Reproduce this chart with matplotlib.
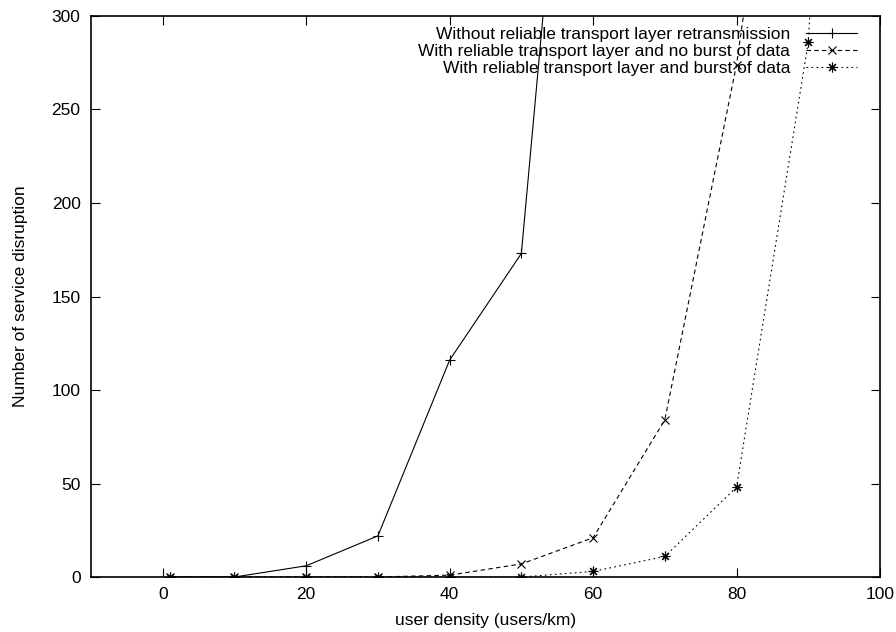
import matplotlib
matplotlib.use('Agg')
import matplotlib.pyplot as plt

plt.rcParams['font.family'] = ['Liberation Sans', 'DejaVu Sans']

# user density (users/km)
density = [1, 10, 20, 30, 40, 50, 60, 70, 80, 90, 100]

# number of service disruptions (last points go off the top of the plot)
no_retrans = [0, 0, 6, 22, 116, 173, 594]
reliable_no_burst = [0, 0, 0, 0, 1, 7, 21, 84, 274, 544]
reliable_burst = [0, 0, 0, 0, 0, 0, 3, 11, 48, 286, 930]

labels = ['Without reliable transport layer retransmission',
          'With reliable transport layer and no burst of data',
          'With reliable transport layer and burst of data']

fig = plt.figure(figsize=(8.96, 6.32), dpi=100)
ax = fig.add_axes([0.1016, 0.087, 0.8805, 0.8877])

lw = 0.8
fs = 12.5
ax.plot(density[:len(no_retrans)], no_retrans, color='black', lw=lw,
        marker='+', markersize=7, markeredgewidth=0.8, label=labels[0])
ax.plot(density[:len(reliable_no_burst)], reliable_no_burst, color='black', lw=lw,
        linestyle=(0, (4, 3)), marker='x', markersize=6, markeredgewidth=0.8,
        label=labels[1])
ax.plot(density, reliable_burst, color='black', lw=lw,
        linestyle=(0, (1.5, 3)), marker=(8, 2, 0), markersize=7,
        markeredgewidth=0.8, label=labels[2])

ax.set_xlim(-10, 100)
ax.set_ylim(0, 300)
ax.set_xticks(range(0, 101, 20))
ax.set_yticks(range(0, 301, 50))

ax.tick_params(direction='in', top=True, right=True, length=6.5, width=0.8,
               labelsize=fs, pad=7.5)
for s in ax.spines.values():
    s.set_linewidth(1.2)

ax.set_xlabel('user density (users/km)', fontsize=fs, labelpad=7.5)
ax.set_ylabel('Number of service disruption', fontsize=fs, labelpad=17)

ax.legend(loc='upper right', bbox_to_anchor=(0.985, 1.0), frameon=False,
          markerfirst=False, fontsize=fs, handlelength=2.9, handletextpad=0.95,
          labelspacing=0.09, borderaxespad=0.25)

fig.savefig('out.png', dpi=100)
